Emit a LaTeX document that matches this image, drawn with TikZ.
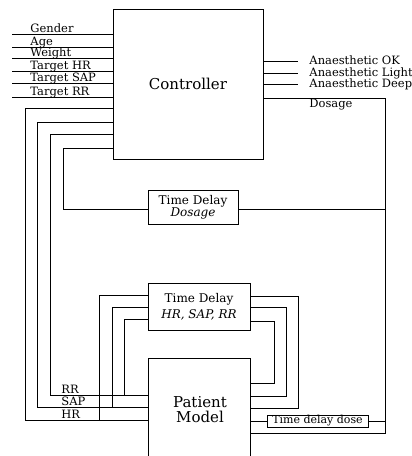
\documentclass[tikz,border=0pt]{standalone}
\usepackage{fontspec}
\setmainfont{DejaVu Serif}
\begin{document}
\begin{tikzpicture}[x=1pt,y=-1pt,line width=0.9pt,
  box/.style={draw,inner sep=0pt,align=center},
  lbl/.style={inner sep=0pt,font=\fontsize{11.5}{12}\selectfont},
  big/.style={font=\fontsize{15}{15}\selectfont}]
\useasboundingbox (0,0) rectangle (412,456);
\fill[white] (0,0) rectangle (412,456);
% boxes
\node[box,big,minimum width=150pt,minimum height=150pt] (ctrl) at (188,84) {Controller};
\node[box,minimum width=90pt,minimum height=34pt,font=\fontsize{12}{11}\selectfont] (tdd) at (193,207) {Time Delay\\\textit{Dosage}};
\node[box,minimum width=102pt,minimum height=47pt,font=\fontsize{12}{16}\selectfont] (tdh) at (199,306.5) {Time Delay\\\textit{HR, SAP, RR}};
\node[box,minimum width=102pt,minimum height=112pt,anchor=north] (pat) at (199,358) {};
\node[big,align=center,inner sep=0pt] (patlbl) at (200,410) {Patient\\Model};
\node[box,minimum width=101pt,minimum height=12pt,font=\fontsize{11}{11}\selectfont] (tdose) at (317.5,421) {Time delay dose};
% inputs
\foreach \y/\t in {34/Gender,47/Age,58/Weight,71/Target HR,83/Target SAP,97/Target RR}{
  \coordinate (in\y) at (12,\y);
  \draw (in\y) -- (in\y -| ctrl.west);
  \node[lbl,anchor=base west] (lab\y) at (30,\y-1.5) {\t};
}
% outputs
\foreach \y/\t in {61/OK,73/Light,84/Deep}{
  \coordinate (out\y) at (298,\y);
  \draw (ctrl.east |- out\y) -- (out\y);
  \node[lbl,anchor=base west] (olab\y) at (309,\y+3) {Anaesthetic \t};
}
% dosage
\coordinate (dtop) at (385,98);
\coordinate (dbot) at (385,433);
\draw (ctrl.east |- dtop) -- (dtop) -- (dbot) -- (pat.east |- dbot);
\node[lbl,anchor=base west] (doslab) at (309,107) {Dosage};
\draw (pat.east |- tdose) -- (tdose.west);
\draw (tdose.east) -- (tdose.east -| dtop);
% delayed dosage
\draw (ctrl.west |- 0,148) -- (63,148) -- (63,209) -- (tdd.west |- 0,209);
\draw (tdd.east |- 0,209) -- (dtop |- 0,209);
% feedback HR, SAP, RR
\draw (ctrl.west |- 0,108) -- (25,108) -- (25,420) -- (pat.west |- 0,420);
\draw (ctrl.west |- 0,122) -- (37,122) -- (37,407) -- (pat.west |- 0,407);
\draw (ctrl.west |- 0,134) -- (50,134) -- (50,395) -- (pat.west |- 0,395);
\node[lbl,anchor=base west] (rrlab) at (61,393.5) {RR};
\node[lbl,anchor=base west] (saplab) at (61,405.5) {SAP};
\node[lbl,anchor=base west] (hrlab) at (61,418.5) {HR};
% delay box left
\draw (tdh.west |- 0,295) -- (99,295) -- (99,420);
\draw (tdh.west |- 0,307) -- (112,307) -- (112,407);
\draw (tdh.west |- 0,319) -- (124,319) -- (124,395);
% delay box right
\draw (tdh.east |- 0,296) -- (298,296) -- (298,408) -- (pat.east |- 0,408);
\draw (tdh.east |- 0,307) -- (286,307) -- (286,396) -- (pat.east |- 0,396);
\draw (tdh.east |- 0,321) -- (274,321) -- (274,383) -- (pat.east |- 0,383);
\end{tikzpicture}
\end{document}
